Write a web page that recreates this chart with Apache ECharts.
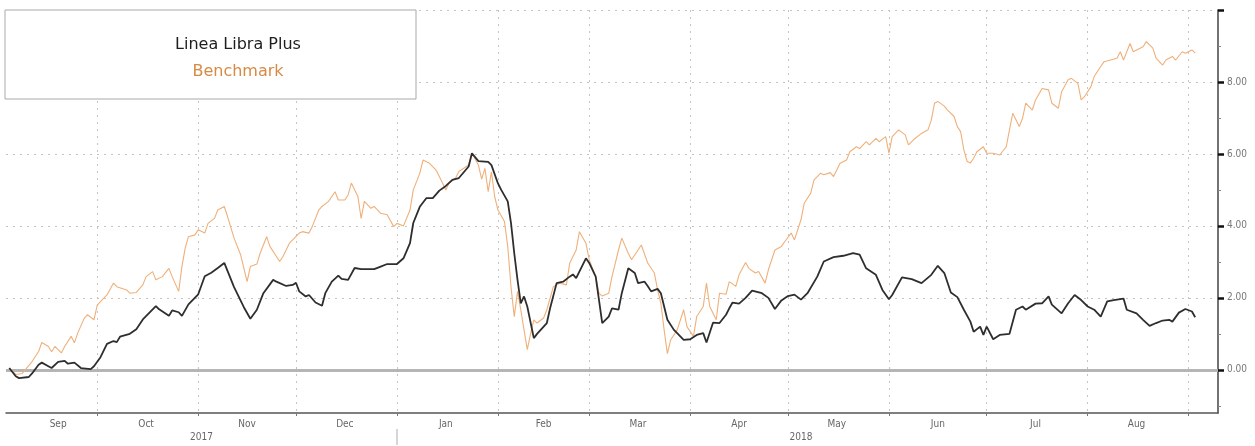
<!DOCTYPE html>
<html>
<head>
<meta charset="utf-8">
<script src="https://cdn.jsdelivr.net/npm/echarts@6/dist/echarts.min.js"></script>
<style>
  html, body { margin: 0; padding: 0; background: #ffffff; }
  #chart { width: 1255px; height: 446px; }
</style>
</head>
<body>
<div id="chart"></div>
<script>
// Cumulative performance (%), Sep 2017 – Sep 2018
const seriesNames = ['Linea Libra Plus', 'Benchmark'];

const libraDates = [
  '2017-09-04','2017-09-06','2017-09-07','2017-09-10','2017-09-11','2017-09-13','2017-09-14','2017-09-16','2017-09-17','2017-09-19',
  '2017-09-21','2017-09-22','2017-09-24','2017-09-26','2017-09-29','2017-09-30','2017-10-02','2017-10-04','2017-10-06','2017-10-07',
  '2017-10-08','2017-10-11','2017-10-13','2017-10-15','2017-10-19','2017-10-20','2017-10-23','2017-10-24','2017-10-26','2017-10-27',
  '2017-10-29','2017-11-01','2017-11-03','2017-11-05','2017-11-07','2017-11-09','2017-11-12','2017-11-15','2017-11-17','2017-11-19',
  '2017-11-21','2017-11-24','2017-11-25','2017-11-28','2017-11-30','2017-12-01','2017-12-02','2017-12-04','2017-12-05','2017-12-07',
  '2017-12-09','2017-12-10','2017-12-12','2017-12-14','2017-12-15','2017-12-17','2017-12-19','2017-12-21','2017-12-25','2017-12-27',
  '2017-12-29','2018-01-01','2018-01-03','2018-01-05','2018-01-06','2018-01-08','2018-01-10','2018-01-12','2018-01-14','2018-01-16',
  '2018-01-18','2018-01-20','2018-01-23','2018-01-24','2018-01-26','2018-01-29','2018-01-30','2018-02-01','2018-02-02','2018-02-04',
  '2018-02-05','2018-02-06','2018-02-07','2018-02-08','2018-02-09','2018-02-10','2018-02-12','2018-02-13','2018-02-16','2018-02-17',
  '2018-02-19','2018-02-21','2018-02-23','2018-02-24','2018-02-25','2018-02-28','2018-03-01','2018-03-03','2018-03-05','2018-03-07',
  '2018-03-08','2018-03-10','2018-03-11','2018-03-13','2018-03-15','2018-03-16','2018-03-18','2018-03-19','2018-03-20','2018-03-22',
  '2018-03-23','2018-03-25','2018-03-27','2018-03-28','2018-03-30','2018-04-01','2018-04-03','2018-04-05','2018-04-06','2018-04-08',
  '2018-04-10','2018-04-12','2018-04-13','2018-04-14','2018-04-16','2018-04-18','2018-04-20','2018-04-23','2018-04-25','2018-04-27',
  '2018-04-29','2018-05-01','2018-05-03','2018-05-05','2018-05-07','2018-05-10','2018-05-12','2018-05-15','2018-05-18','2018-05-21',
  '2018-05-23','2018-05-25','2018-05-28','2018-05-30','2018-06-01','2018-06-02','2018-06-05','2018-06-08','2018-06-11','2018-06-14',
  '2018-06-16','2018-06-18','2018-06-20','2018-06-22','2018-06-24','2018-06-26','2018-06-27','2018-06-29','2018-06-30','2018-07-01',
  '2018-07-03','2018-07-05','2018-07-08','2018-07-10','2018-07-12','2018-07-13','2018-07-16','2018-07-18','2018-07-20','2018-07-21',
  '2018-07-24','2018-07-26','2018-07-28','2018-07-30','2018-08-01','2018-08-03','2018-08-05','2018-08-07','2018-08-09','2018-08-12',
  '2018-08-13','2018-08-16','2018-08-18','2018-08-20','2018-08-22','2018-08-24','2018-08-26','2018-08-27','2018-08-29','2018-08-31',
  '2018-09-02','2018-09-03'
];
const libraValues = [
  0.05,-0.18,-0.23,-0.20,-0.10,0.14,0.20,0.10,0.05,0.22,
  0.25,0.17,0.20,0.05,0.02,0.10,0.35,0.72,0.80,0.77,
  0.92,1.00,1.13,1.40,1.77,1.68,1.50,1.65,1.60,1.50,
  1.82,2.10,2.60,2.70,2.83,2.97,2.30,1.74,1.42,1.67,
  2.13,2.50,2.45,2.33,2.36,2.42,2.18,2.04,2.08,1.87,
  1.78,2.13,2.45,2.62,2.53,2.50,2.83,2.80,2.80,2.87,
  2.94,2.94,3.10,3.52,4.08,4.53,4.77,4.77,4.98,5.11,
  5.28,5.33,5.65,6.02,5.80,5.78,5.69,5.18,5.00,4.68,
  4.08,3.24,2.50,1.85,2.04,1.76,0.88,1.00,1.30,1.71,
  2.41,2.45,2.59,2.65,2.55,3.10,2.97,2.59,1.30,1.48,
  1.71,1.67,2.13,2.82,2.69,2.41,2.45,2.32,2.18,2.25,
  2.13,1.39,1.11,1.02,0.83,0.85,0.97,1.02,0.76,1.31,
  1.30,1.53,1.71,1.87,1.84,2.00,2.20,2.13,2.00,1.69,
  1.93,2.05,2.09,1.95,2.13,2.59,3.01,3.13,3.17,3.24,
  3.20,2.82,2.64,2.22,1.96,2.08,2.57,2.52,2.41,2.64,
  2.89,2.69,2.15,2.02,1.67,1.34,1.06,1.20,0.97,1.20,
  0.85,0.97,1.00,1.67,1.76,1.67,1.84,1.85,2.04,1.81,
  1.57,1.85,2.08,1.94,1.76,1.67,1.48,1.90,1.94,1.98,
  1.67,1.57,1.39,1.22,1.30,1.37,1.39,1.34,1.59,1.69,
  1.62,1.46
];

const benchDates = [
  '2017-09-04','2017-09-06','2017-09-08','2017-09-11','2017-09-13','2017-09-14','2017-09-16','2017-09-17','2017-09-18','2017-09-20',
  '2017-09-21','2017-09-23','2017-09-24','2017-09-25','2017-09-27','2017-09-28','2017-09-30','2017-10-01','2017-10-03','2017-10-04',
  '2017-10-06','2017-10-07','2017-10-10','2017-10-11','2017-10-13','2017-10-15','2017-10-16','2017-10-18','2017-10-19','2017-10-21',
  '2017-10-23','2017-10-24','2017-10-26','2017-10-27','2017-10-28','2017-10-29','2017-10-31','2017-11-01','2017-11-03','2017-11-04',
  '2017-11-06','2017-11-07','2017-11-09','2017-11-10','2017-11-12','2017-11-14','2017-11-16','2017-11-17','2017-11-19','2017-11-20',
  '2017-11-22','2017-11-23','2017-11-25','2017-11-26','2017-11-27','2017-11-29','2017-11-30','2017-12-02','2017-12-03','2017-12-05',
  '2017-12-06','2017-12-08','2017-12-09','2017-12-11','2017-12-13','2017-12-14','2017-12-16','2017-12-17','2017-12-18','2017-12-20',
  '2017-12-21','2017-12-22','2017-12-24','2017-12-25','2017-12-27','2017-12-29','2017-12-31','2018-01-01','2018-01-03','2018-01-05',
  '2018-01-06','2018-01-08','2018-01-09','2018-01-11','2018-01-13','2018-01-14','2018-01-16','2018-01-17','2018-01-19','2018-01-20',
  '2018-01-23','2018-01-24','2018-01-26','2018-01-27','2018-01-28','2018-01-29','2018-01-30','2018-01-31','2018-02-01','2018-02-03',
  '2018-02-04','2018-02-05','2018-02-06','2018-02-07','2018-02-08','2018-02-09','2018-02-10','2018-02-11','2018-02-12','2018-02-13',
  '2018-02-15','2018-02-16','2018-02-18','2018-02-20','2018-02-22','2018-02-23','2018-02-25','2018-02-26','2018-02-28','2018-03-01',
  '2018-03-03','2018-03-04','2018-03-05','2018-03-07','2018-03-08','2018-03-10','2018-03-11','2018-03-13','2018-03-14','2018-03-16',
  '2018-03-17','2018-03-19','2018-03-21','2018-03-22','2018-03-23','2018-03-24','2018-03-25','2018-03-26','2018-03-28','2018-03-30',
  '2018-03-31','2018-04-02','2018-04-03','2018-04-05','2018-04-06','2018-04-07','2018-04-09','2018-04-10','2018-04-12','2018-04-13',
  '2018-04-15','2018-04-16','2018-04-18','2018-04-19','2018-04-21','2018-04-22','2018-04-24','2018-04-25','2018-04-27','2018-04-29',
  '2018-04-30','2018-05-02','2018-05-03','2018-05-05','2018-05-06','2018-05-08','2018-05-09','2018-05-11','2018-05-12','2018-05-14',
  '2018-05-15','2018-05-17','2018-05-19','2018-05-20','2018-05-22','2018-05-23','2018-05-25','2018-05-26','2018-05-28','2018-05-29',
  '2018-05-31','2018-06-01','2018-06-02','2018-06-04','2018-06-06','2018-06-07','2018-06-09','2018-06-11','2018-06-13','2018-06-14',
  '2018-06-15','2018-06-16','2018-06-18','2018-06-19','2018-06-21','2018-06-22','2018-06-23','2018-06-24','2018-06-25','2018-06-26',
  '2018-06-27','2018-06-28','2018-06-30','2018-07-01','2018-07-03','2018-07-05','2018-07-07','2018-07-08','2018-07-09','2018-07-11',
  '2018-07-12','2018-07-13','2018-07-15','2018-07-16','2018-07-18','2018-07-20','2018-07-21','2018-07-23','2018-07-24','2018-07-26',
  '2018-07-27','2018-07-29','2018-07-30','2018-07-31','2018-08-02','2018-08-03','2018-08-05','2018-08-06','2018-08-08','2018-08-10',
  '2018-08-11','2018-08-12','2018-08-14','2018-08-15','2018-08-18','2018-08-19','2018-08-21','2018-08-22','2018-08-24','2018-08-25',
  '2018-08-27','2018-08-28','2018-08-30','2018-08-31','2018-09-02','2018-09-03'
];
const benchValues = [
  0.05,-0.13,-0.10,0.23,0.51,0.76,0.65,0.50,0.65,0.47,
  0.65,0.93,0.75,1.02,1.43,1.53,1.39,1.80,1.99,2.08,
  2.41,2.31,2.22,2.13,2.15,2.36,2.59,2.73,2.50,2.59,
  2.82,2.59,2.18,2.87,3.38,3.70,3.75,3.89,3.80,4.07,
  4.21,4.44,4.54,4.26,3.66,3.20,2.45,2.87,2.94,3.24,
  3.70,3.43,3.15,3.01,3.15,3.52,3.61,3.80,3.84,3.80,
  3.98,4.44,4.54,4.68,4.95,4.72,4.72,4.86,5.19,4.82,
  4.21,4.68,4.49,4.54,4.35,4.31,3.98,4.07,4.00,4.44,
  5.00,5.46,5.83,5.74,5.55,5.37,5.00,5.19,5.33,5.51,
  5.69,6.02,5.69,5.30,5.60,4.95,5.50,4.81,4.44,4.12,
  3.43,2.31,1.48,2.18,1.67,1.11,0.56,1.00,1.39,1.30,
  1.44,1.67,2.31,2.41,2.36,2.96,3.33,3.84,3.52,3.06,
  2.59,2.13,2.05,2.13,2.59,3.33,3.66,3.24,3.06,3.33,
  3.47,2.96,2.69,2.22,1.85,1.11,0.45,0.83,1.11,1.67,
  1.20,0.93,1.48,1.76,2.41,1.76,1.39,2.13,2.10,2.45,
  2.32,2.64,2.98,2.82,2.69,2.73,2.41,2.78,3.33,3.43,
  3.56,3.80,3.61,4.17,4.63,4.91,5.28,5.46,5.42,5.48,
  5.37,5.74,5.83,6.06,6.20,6.15,6.34,6.25,6.43,6.34,
  6.48,6.02,6.48,6.67,6.53,6.25,6.43,6.57,6.67,6.94,
  7.41,7.46,7.33,7.22,7.04,6.76,6.62,6.11,5.79,5.75,
  5.88,6.06,6.20,6.02,6.02,5.97,6.20,6.67,7.13,6.76,
  6.99,7.41,7.22,7.50,7.82,7.78,7.41,7.27,7.73,8.06,
  8.10,7.96,7.50,7.59,7.87,8.15,8.43,8.56,8.61,8.66,
  8.84,8.61,9.07,8.84,8.98,9.12,8.94,8.66,8.47,8.61,
  8.71,8.61,8.84,8.80,8.89,8.80
];

// Axis ticks and labels
const monthNames = ['Jan','Feb','Mar','Apr','May','Jun','Jul','Aug','Sep','Oct','Nov','Dec'];
const monthStarts = ['2017-10-01','2017-11-01','2017-12-01','2018-01-01','2018-02-01','2018-03-01',
                     '2018-04-01','2018-05-01','2018-06-01','2018-07-01','2018-08-01','2018-09-01'];
const monthLabelDates = ['2017-09-19','2017-10-16','2017-11-16','2017-12-16','2018-01-16','2018-02-15',
                         '2018-03-16','2018-04-16','2018-05-16','2018-06-16','2018-07-16','2018-08-16'];
const yearLabelDates = ['2017-11-02','2018-05-05'];
const yearBreaks = ['2018-01-01'];
const yMajorTicks = [0, 2, 4, 6, 8, 10];
const yMinorTicks = [-1, 1, 3, 5, 7, 9];
const yLabelValues = [0, 2, 4, 6, 8];

const X_MIN = '2017-09-03';
const X_MAX = '2018-09-10';
const Y_MIN = -1.2;
const Y_MAX = 10;

const FONT = "'DejaVu Sans Condensed', 'Liberation Sans Narrow', 'DejaVu Sans', sans-serif";
const LEGEND_FONT = "'DejaVu Sans', 'Noto Sans', sans-serif";

// dates are kept as ISO strings and turned into UTC milliseconds for the axis
const ms = d => Date.parse(d);
const msList = list => list.map(ms);
const pairs = (dates, values) => dates.map((d, i) => [ms(d), values[i]]);

const chart = echarts.init(document.getElementById('chart'), null, { renderer: 'canvas' });

const xCommon = {
  type: 'value',
  min: ms(X_MIN),
  max: ms(X_MAX),
  position: 'bottom',
  scale: true
};

chart.setOption({
  animation: false,
  backgroundColor: '#ffffff',
  textStyle: { fontFamily: FONT },
  grid: { left: 6, right: 37, top: 10, bottom: 33, containLabel: false },
  legend: {
    left: 5,
    top: 10,
    orient: 'vertical',
    icon: 'none',
    itemWidth: 0,
    itemHeight: 18,
    itemGap: 10,
    padding: [26, 28, 19, 78],
    backgroundColor: '#ffffff',
    borderColor: '#a9a9a9',
    borderWidth: 1,
    selectedMode: false,
    formatter: name => '{t|' + name + '}',
    textStyle: {
      fontFamily: LEGEND_FONT,
      fontSize: 16,
      rich: { t: { width: 300, align: 'center', fontSize: 16, lineHeight: 18, fontFamily: LEGEND_FONT } }
    },
    data: [
      { name: seriesNames[0], textStyle: { color: '#1e1e1e' } },
      { name: seriesNames[1], textStyle: { color: '#d68a44' } }
    ]
  },
  xAxis: [
    Object.assign({}, xCommon, {
      axisLine: { show: true, onZero: false, lineStyle: { color: '#555555', width: 1.5 } },
      axisTick: { show: true, customValues: msList(monthStarts), length: 3, lineStyle: { color: '#777777' } },
      splitLine: { show: true, lineStyle: { color: '#c4c4c4', type: [2, 5], width: 1 } },
      axisLabel: {
        customValues: msList(monthLabelDates),
        formatter: v => monthNames[new Date(v).getUTCMonth()],
        color: '#666666',
        fontSize: 10,
        fontFamily: FONT,
        margin: 6
      }
    }),
    Object.assign({}, xCommon, {
      offset: 16,
      axisLine: { show: false, onZero: false },
      axisTick: { show: true, customValues: msList(yearBreaks), length: 16, lineStyle: { color: '#c8c8c8', width: 1.5 } },
      splitLine: { show: false },
      axisLabel: {
        customValues: msList(yearLabelDates),
        formatter: v => String(new Date(v).getUTCFullYear()),
        color: '#666666',
        fontSize: 10,
        fontFamily: FONT,
        margin: 3
      }
    })
  ],
  yAxis: [
    {
      type: 'value',
      position: 'right',
      min: Y_MIN,
      max: Y_MAX,
      axisLine: { show: true, onZero: false, lineStyle: { color: '#444444', width: 1.5 } },
      axisTick: { show: true, customValues: yMinorTicks, length: 3, lineStyle: { color: '#888888' } },
      splitLine: { show: false },
      axisLabel: {
        customValues: yLabelValues,
        formatter: v => v.toFixed(2),
        color: '#777777',
        fontSize: 10,
        fontFamily: FONT,
        margin: 9
      }
    },
    {
      type: 'value',
      position: 'right',
      min: Y_MIN,
      max: Y_MAX,
      axisLine: { show: false, onZero: false },
      axisTick: { show: true, customValues: yMajorTicks, length: 6, lineStyle: { color: '#111111', width: 2.5 } },
      axisLabel: { show: false },
      splitLine: { show: true, lineStyle: { color: '#c4c4c4', type: [2, 5], width: 1 } }
    }
  ],
  series: [
    {
      name: seriesNames[1],
      type: 'line',
      data: pairs(benchDates, benchValues),
      showSymbol: false,
      symbol: 'none',
      color: '#efb07a',
      lineStyle: { color: '#efb07a', width: 1.1 },
      z: 3
    },
    {
      name: seriesNames[0],
      type: 'line',
      data: pairs(libraDates, libraValues),
      showSymbol: false,
      symbol: 'none',
      color: '#2e2e2e',
      lineStyle: { color: '#2e2e2e', width: 1.8 },
      z: 4,
      markLine: {
        silent: true,
        symbol: 'none',
        label: { show: false },
        lineStyle: { color: '#b5b5b5', width: 3, type: 'solid' },
        data: [{ yAxis: 0 }],
        z: 1
      }
    }
  ]
});
</script>
</body>
</html>
